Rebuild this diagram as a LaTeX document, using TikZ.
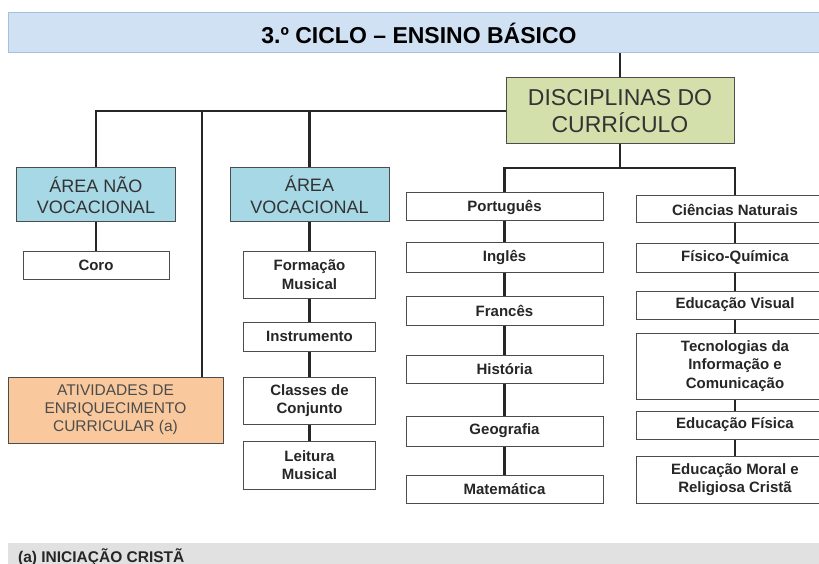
\documentclass[tikz,border=0pt]{standalone}
\usepackage{fontspec}
\setmainfont{Liberation Sans}
\usepackage{tikz}
\usepackage{xcolor}
\definecolor{titleblue}{HTML}{CFE1F3}
\definecolor{titleedge}{HTML}{A3C2E3}
\definecolor{areablue}{HTML}{A7D8E6}
\definecolor{discgreen}{HTML}{D4E0AC}
\definecolor{ativorange}{HTML}{F9C99D}
\definecolor{notegrey}{HTML}{E1E1E1}

\begin{document}
\begin{tikzpicture}[x=1pt, y=-1pt, link/.style={line width=2.5pt, black!85},
                box/.style={rectangle, draw=black!70, line width=1pt, inner sep=0pt, align=center}]

                % Define the styles for the boxes
                \tikzset{header/.style={rectangle, fill=titleblue, draw=titleedge, line width=1pt,
                                minimum width=822pt, minimum height=40pt, inner sep=0pt,
                                font=\fontsize{23}{27}\selectfont\bfseries},
                    disc/.style={box, fill=discgreen, minimum width=228pt, minimum height=66pt,
                                text=black!80, font=\fontsize{23}{27}\selectfont},
                    area/.style={box, fill=areablue, minimum width=159pt, minimum height=54pt,
                                text=black!80, font=\fontsize{18}{21.5}\selectfont},
                    extra/.style={box, fill=ativorange, minimum width=215pt, minimum height=66pt,
                                text=black!70, font=\fontsize{15.5}{18}\selectfont},
                    subject/.style={box, fill=white, minimum width=197pt, text=black!85,
                                font=\fontsize{15}{18.5}\selectfont\bfseries},
                    music/.style={subject, minimum width=132pt}}

                \useasboundingbox (0,0) rectangle (819,564);
                \clip (0,0) rectangle (819,564);

                % Nodes
                \node[header] (title) at (419,33) {3.º CICLO – ENSINO BÁSICO};
                \node[disc] (disc) at (620,111) {DISCIPLINAS DO\\CURRÍCULO};
                \node[area] (anv) at (96,195) {ÁREA NÃO\\VOCACIONAL};
                \node[area] (av) at (309.5,195) {ÁREA\\VOCACIONAL};
                \node[extra] (ativ) at (115.5,410) {ATIVIDADES DE\\ENRIQUECIMENTO\\CURRICULAR (a)};
                \node[subject, minimum width=146pt, minimum height=28pt] (coro) at (96,265) {Coro};

                \node[music, minimum height=47pt] (formus) at (309.5,274.5) {Formação\\Musical};
                \node[music, minimum height=29pt] (instr) at (309.5,336.5) {Instrumento};
                \node[music, minimum height=47pt] (classes) at (309.5,400.5) {Classes de\\Conjunto};
                \node[music, minimum height=48pt] (leitura) at (309.5,465) {Leitura\\Musical};

                \node[subject, minimum height=28pt] (port) at (504.5,207) {Português};
                \node[subject, minimum height=30pt] (ingl) at (504.5,257) {Inglês};
                \node[subject, minimum height=29pt] (fran) at (504.5,310.5) {Francês};
                \node[subject, minimum height=28pt] (hist) at (504.5,369) {História};
                \node[subject, minimum height=30pt] (geo) at (504.5,431) {Geografia};
                \node[subject, minimum height=28pt] (mat) at (504.5,489) {Matemática};

                \node[subject, minimum height=27pt] (cien) at (735,209.5) {Ciências Naturais};
                \node[subject, minimum height=29pt] (fq) at (735,257.5) {Físico-Química};
                \node[subject, minimum height=28pt] (ev) at (735,305) {Educação Visual};
                \node[subject, minimum height=66pt] (tic) at (735,366) {Tecnologias da\\Informação e\\Comunicação};
                \node[subject, minimum height=28pt] (ef) at (735,425) {Educação Física};
                \node[subject, minimum height=47pt] (emrc) at (735,479.5) {Educação Moral e\\Religiosa Cristã};

                % Footnote
                \fill[notegrey] (8,543) rectangle (830,580);
                \node[anchor=base west, inner sep=0pt, text=black!85,
                      font=\fontsize{15.5}{18}\selectfont\bfseries] (note) at (18,562.5) {(a) INICIAÇÃO CRISTÃ};

                % Paths
                \coordinate (jvoc) at (av.north |- disc.west);
                \coordinate (jativ) at (202,111);
                \coordinate (jsub) at (620,168);
                \draw[link] (disc.north) -- (disc.north |- title.south);
                \draw[link] (disc.west) -| (anv.north);
                \draw[link] (jvoc) -- (av.north);
                \draw[link] (jativ) -- (jativ |- ativ.north);
                \draw[link] (disc.south) -- (jsub);
                \draw[link] (port.north) |- (jsub) -| (cien.north);
                \path[link]
                (anv) edge (coro)
                (av) edge (formus)
                (formus) edge (instr)
                (instr) edge (classes)
                (classes) edge (leitura)
                (port) edge (ingl)
                (ingl) edge (fran)
                (fran) edge (hist)
                (hist) edge (geo)
                (geo) edge (mat)
                (cien) edge (fq)
                (fq) edge (ev)
                (ev) edge (tic)
                (tic) edge (ef)
                (ef) edge (emrc);
            \end{tikzpicture}
\end{document}
